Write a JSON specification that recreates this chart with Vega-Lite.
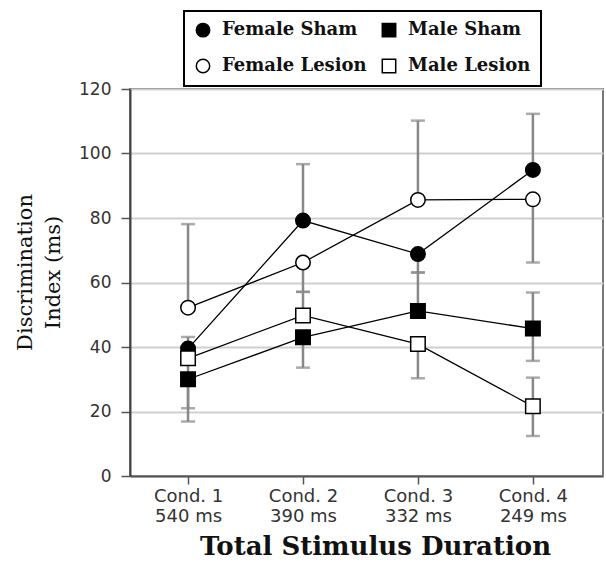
{
  "$schema": "https://vega.github.io/schema/vega-lite/v6.json",
  "width": 473,
  "height": 387,
  "padding": {"left": 14, "top": 10, "right": 5, "bottom": 5},
  "background": "white",
  "datasets": {
    "means": [
      {"cond": 1, "group": "Female Sham", "value": 39.5},
      {"cond": 2, "group": "Female Sham", "value": 79.2},
      {"cond": 3, "group": "Female Sham", "value": 68.8},
      {"cond": 4, "group": "Female Sham", "value": 94.9},
      {"cond": 1, "group": "Female Lesion", "value": 52.2},
      {"cond": 2, "group": "Female Lesion", "value": 66.2},
      {"cond": 3, "group": "Female Lesion", "value": 85.6},
      {"cond": 4, "group": "Female Lesion", "value": 85.8},
      {"cond": 1, "group": "Male Sham", "value": 30.0},
      {"cond": 2, "group": "Male Sham", "value": 43.0},
      {"cond": 3, "group": "Male Sham", "value": 51.2},
      {"cond": 4, "group": "Male Sham", "value": 45.7},
      {"cond": 1, "group": "Male Lesion", "value": 36.5},
      {"cond": 2, "group": "Male Lesion", "value": 49.8},
      {"cond": 3, "group": "Male Lesion", "value": 40.9},
      {"cond": 4, "group": "Male Lesion", "value": 21.6}
    ],
    "errbars": [
      {"cond": 1, "group": "Female Lesion", "value": 52.2, "end": 78.1},
      {"cond": 1, "group": "Female Sham", "value": 39.5, "end": 43.1},
      {"cond": 1, "group": "Male Lesion", "value": 36.5, "end": 21.0},
      {"cond": 1, "group": "Male Sham", "value": 30.0, "end": 16.9},
      {"cond": 2, "group": "Female Sham", "value": 79.2, "end": 96.7},
      {"cond": 2, "group": "Female Lesion", "value": 66.2, "end": 57.1},
      {"cond": 2, "group": "Male Lesion", "value": 49.8, "end": 57.1},
      {"cond": 2, "group": "Male Sham", "value": 43.0, "end": 33.6},
      {"cond": 3, "group": "Female Lesion", "value": 85.6, "end": 110.2},
      {"cond": 3, "group": "Female Sham", "value": 68.8, "end": 63.1},
      {"cond": 3, "group": "Male Sham", "value": 51.2, "end": 63.1},
      {"cond": 3, "group": "Male Lesion", "value": 40.9, "end": 30.3},
      {"cond": 4, "group": "Female Sham", "value": 94.9, "end": 112.3},
      {"cond": 4, "group": "Female Lesion", "value": 85.8, "end": 66.2},
      {"cond": 4, "group": "Male Sham", "value": 45.7, "end": 56.9},
      {"cond": 4, "group": "Male Sham", "value": 45.7, "end": 35.7},
      {"cond": 4, "group": "Male Lesion", "value": 21.6, "end": 30.5},
      {"cond": 4, "group": "Male Lesion", "value": 21.6, "end": 12.4}
    ]
  },
  "encoding": {
    "x": {
      "field": "cond",
      "type": "quantitative",
      "scale": {"domain": [0.495, 4.61], "nice": false, "zero": false},
      "axis": {
        "title": "Total Stimulus Duration",
        "values": [1, 2, 3, 4],
        "grid": false,
        "labelExpr": "datum.value == 1 ? ['Cond. 1', '540 ms'] : datum.value == 2 ? ['Cond. 2', '390 ms'] : datum.value == 3 ? ['Cond. 3', '332 ms'] : ['Cond. 4', '249 ms']",
        "labelFont": "DejaVu Sans",
        "labelFontSize": 18,
        "labelColor": "#333",
        "labelLineHeight": 20,
        "labelPadding": 3,
        "tickSize": 8,
        "tickColor": "#555",
        "tickWidth": 1.5,
        "domainColor": "#555",
        "domainWidth": 2,
        "titleFont": "DejaVu Serif",
        "titleFontWeight": "bold",
        "titleFontSize": 26,
        "titleColor": "#111",
        "titlePadding": 8,
        "titleX": 245
      }
    },
    "y": {
      "field": "value",
      "type": "quantitative",
      "scale": {"domain": [0, 120], "nice": false},
      "axis": {
        "title": ["Discrimination", "Index (ms)"],
        "values": [0, 20, 40, 60, 80, 100, 120],
        "grid": true,
        "gridColor": "#cfcfcf",
        "gridWidth": 2,
        "labelFont": "DejaVu Sans",
        "labelFontSize": 17,
        "labelColor": "#333",
        "labelPadding": 10,
        "tickSize": 9,
        "tickColor": "#555",
        "tickWidth": 1.5,
        "domainColor": "#444",
        "domainWidth": 2,
        "titleFont": "DejaVu Serif",
        "titleFontWeight": "normal",
        "titleFontSize": 21,
        "titleColor": "#111",
        "titleLineHeight": 28,
        "titlePadding": 15,
        "titleY": 183
      }
    }
  },
  "layer": [
    {
      "data": {"name": "errbars"},
      "mark": {"type": "rule", "color": "#888", "strokeWidth": 2.5},
      "encoding": {"y2": {"field": "end"}}
    },
    {
      "data": {"name": "errbars"},
      "mark": {"type": "tick", "orient": "horizontal", "color": "#888", "size": 14, "thickness": 2.5},
      "encoding": {"y": {"field": "end", "type": "quantitative"}}
    },
    {
      "data": {"name": "means"},
      "mark": {"type": "line", "color": "black", "strokeWidth": 1.3},
      "encoding": {"detail": {"field": "group"}}
    },
    {
      "data": {"name": "means"},
      "mark": {"type": "point", "filled": true, "strokeWidth": 1.5, "size": 210, "opacity": 1},
      "encoding": {
        "shape": {
          "field": "group",
          "type": "nominal",
          "scale": {
            "domain": ["Female Sham", "Female Lesion", "Male Sham", "Male Lesion"],
            "range": ["circle", "circle", "square", "square"]
          },
          "legend": {
            "title": null,
            "orient": "none",
            "legendX": 54,
            "legendY": -78,
            "columns": 2
          }
        },
        "fill": {
          "field": "group",
          "type": "nominal",
          "scale": {
            "domain": ["Female Sham", "Female Lesion", "Male Sham", "Male Lesion"],
            "range": ["black", "white", "black", "white"]
          },
          "legend": {
            "title": null,
            "orient": "none",
            "legendX": 54,
            "legendY": -78,
            "columns": 2
          }
        },
        "stroke": {
          "field": "group",
          "type": "nominal",
          "scale": {
            "domain": ["Female Sham", "Female Lesion", "Male Sham", "Male Lesion"],
            "range": ["black", "black", "black", "black"]
          },
          "legend": {
            "title": null,
            "orient": "none",
            "legendX": 54,
            "legendY": -78,
            "columns": 2
          }
        }
      }
    }
  ],
  "config": {
    "view": {"stroke": "#777", "strokeWidth": 2},
    "legend": {
      "labelFont": "DejaVu Serif",
      "labelFontWeight": "bold",
      "labelFontSize": 18,
      "labelColor": "#111",
      "symbolSize": 180,
      "symbolStrokeWidth": 1.5,
      "strokeColor": "black",
      "strokeWidth": 2,
      "fillColor": "white",
      "padding": 10,
      "rowPadding": 16,
      "columnPadding": 12,
      "labelOffset": 10
    }
  }
}
